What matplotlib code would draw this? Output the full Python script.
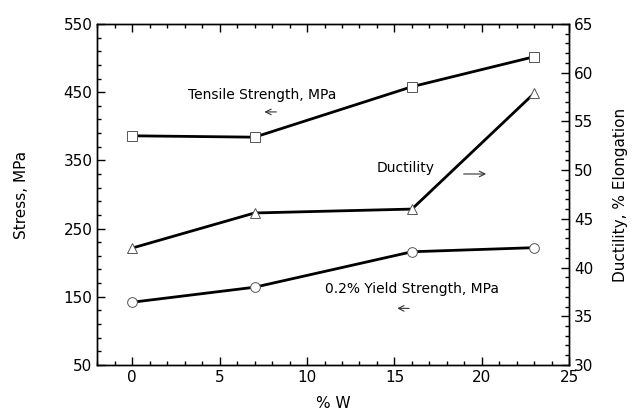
import matplotlib.pyplot as plt
from matplotlib.ticker import MultipleLocator

# data
w_pct = [0, 7, 16, 23]
tensile = [386, 384, 458, 502]
yield_str = [142, 164, 216, 222]
ductility = [42.0, 45.6, 46.0, 57.9]

fig = plt.figure(figsize=(6.44, 4.2), dpi=100)
ax = fig.add_axes([0.151, 0.131, 0.733, 0.812])
ax2 = ax.twinx()

lw = 2.0
mk = dict(markerfacecolor='white', markeredgecolor='#555555', markeredgewidth=0.7, markersize=7)
ax.plot(w_pct, tensile, color='black', lw=lw, marker='s', zorder=3, **mk)
ax.plot(w_pct, yield_str, color='black', lw=lw, marker='o', zorder=3, **mk)
ax2.plot(w_pct, ductility, color='black', lw=lw, marker='^', zorder=3, **mk)

ax.set_xlim(-2, 25)
ax.set_ylim(50, 550)
ax2.set_ylim(30, 65)

ax.xaxis.set_major_locator(MultipleLocator(5))
ax.xaxis.set_minor_locator(MultipleLocator(1))
ax.set_yticks(range(50, 551, 100))
ax.set_yticks(range(50, 551, 20), minor=True)
ax2.yaxis.set_major_locator(MultipleLocator(5))
ax2.yaxis.set_minor_locator(MultipleLocator(1))

ax.tick_params(axis='x', which='both', direction='in', top=True, labelsize=11)
ax.tick_params(axis='y', which='both', direction='in', labelsize=11)
ax2.tick_params(axis='y', which='both', direction='in', labelsize=11)
for a in (ax, ax2):
    a.tick_params(which='major', length=6, width=1)
    a.tick_params(which='minor', length=3, width=1)
    for s in a.spines.values():
        s.set_linewidth(1)

ax.set_xlabel('% W', fontsize=11, labelpad=8)
ax.set_ylabel('Stress, MPa', fontsize=11, labelpad=25)
ax2.set_ylabel('Ductility, % Elongation', fontsize=11, labelpad=14)

ax.text(3.2, 446, 'Tensile Strength, MPa', fontsize=10, va='center')
ax.annotate('', xy=(7.4, 421), xytext=(8.4, 421),
            arrowprops=dict(arrowstyle='->', lw=0.8, color='#333333'))
ax.text(14.0, 339, 'Ductility', fontsize=10, va='center')
ax.annotate('', xy=(20.4, 330), xytext=(18.8, 330),
            arrowprops=dict(arrowstyle='->', lw=0.8, color='#333333'))
ax.text(11.0, 162, '0.2% Yield Strength, MPa', fontsize=10, va='center')
ax.annotate('', xy=(15.0, 133), xytext=(16.0, 133),
            arrowprops=dict(arrowstyle='->', lw=0.8, color='#333333'))

fig.savefig('out.png', dpi=100)
